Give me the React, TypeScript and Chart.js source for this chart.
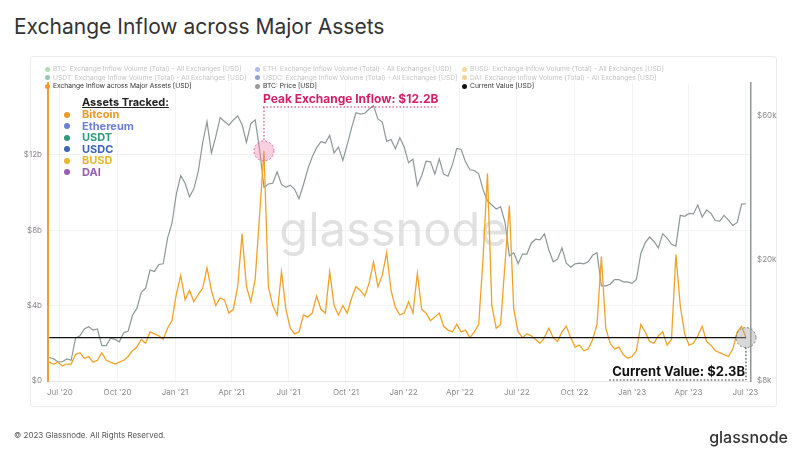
import React, { useEffect, useRef } from 'react';
import { Chart, registerables } from 'chart.js';

Chart.register(...registerables);

// ---------- DATA ----------
const START_DATE = '2020-06-14';
const STEP_DAYS = 7;

// BTC price (USD), weekly
const btcPrice = [
  9400, 9300, 9100, 9100, 9300, 9200, 10900, 11100, 11700, 11900, 11600, 11700,
  10300, 10300, 10900, 10800, 10600, 11400, 11500, 13000, 13700, 15500, 16000, 18400,
  18200, 19200, 19300, 23500, 26300, 33000, 38000, 35800, 32300, 34300, 39200, 48700,
  57500, 45200, 51200, 59300, 57500, 55900, 58200, 60000, 56200, 49000, 56600, 58200,
  46400, 34700, 35600, 35800, 39100, 35500, 34700, 35300, 34200, 31800, 35400, 39900,
  43800, 47000, 49300, 48800, 51700, 45100, 47300, 42700, 48200, 54900, 61500, 60900,
  61300, 63300, 65000, 58700, 57300, 49400, 50100, 46700, 50800, 47300, 41900, 43100,
  35100, 38000, 42400, 42200, 38400, 43200, 38400, 37800, 41300, 46800, 46400, 42200,
  39700, 39500, 38500, 34100, 31300, 30300, 29400, 29900, 26600, 20500, 21000, 19300,
  20800, 20800, 22600, 23300, 23200, 24300, 21500, 19600, 20000, 21800, 19400, 18800,
  19300, 19400, 19300, 19600, 20600, 21000, 16300, 16300, 16500, 17100, 17100, 16800,
  16800, 16600, 17100, 20900, 22700, 23700, 22900, 21800, 24300, 23500, 22400, 22100,
  28000, 27800, 28400, 28300, 30300, 27600, 29200, 28400, 26900, 26800, 28000, 27000,
  25900, 26500, 30500, 30600,
];

// Exchange inflow across major assets (USD billions), weekly
const exchangeInflow = [
  1.0, 0.9, 1.0, 0.8, 0.9, 0.9, 1.4, 1.5, 1.2, 1.3, 1.0, 1.1,
  1.5, 1.1, 1.0, 0.9, 1.0, 1.1, 1.3, 1.6, 1.8, 2.2, 2.0, 2.6,
  2.5, 2.4, 2.2, 2.8, 3.2, 4.6, 5.6, 4.3, 4.8, 4.2, 4.6, 4.9,
  6.0, 4.8, 4.0, 4.4, 4.3, 3.6, 3.8, 5.0, 7.8, 5.0, 4.2, 5.4,
  8.8, 12.2, 5.0, 4.0, 3.5, 5.8, 3.8, 2.8, 2.5, 2.6, 3.5, 3.4,
  3.6, 4.5, 3.8, 3.6, 5.8, 4.0, 3.5, 4.0, 3.6, 4.4, 5.0, 4.8,
  4.5, 5.2, 6.3, 5.0, 5.6, 6.8, 4.8, 3.9, 3.5, 3.6, 4.2, 3.6,
  5.7, 3.8, 3.6, 3.2, 3.4, 3.6, 2.9, 2.7, 2.6, 3.0, 2.6, 2.7,
  2.3, 2.6, 3.0, 6.5, 11.0, 4.0, 2.8, 3.0, 6.2, 9.3, 3.8, 2.6,
  2.3, 2.5, 2.4, 2.2, 2.0, 2.3, 2.8, 2.3, 2.1, 2.6, 2.9, 2.3,
  1.8, 1.9, 1.6, 1.7, 2.2, 3.0, 6.6, 2.8, 2.0, 1.7, 1.8, 1.4,
  1.2, 1.3, 1.6, 3.0, 2.6, 2.1, 2.0, 2.4, 2.6, 1.9, 2.2, 6.7,
  4.0, 2.5, 1.9, 2.0, 2.4, 2.9, 2.1, 1.9, 1.6, 1.5, 1.4, 1.3,
  1.7, 2.6, 2.9, 2.3,
];

const currentValue = 2.3;

const tickDates = [
  '2020-07-01', '2020-10-01', '2021-01-01', '2021-04-01', '2021-07-01', '2021-10-01',
  '2022-01-01', '2022-04-01', '2022-07-01', '2022-10-01', '2023-01-01', '2023-04-01', '2023-07-01',
];
const tickLabels = [
  "Jul '20", "Oct '20", "Jan '21", "Apr '21", "Jul '21", "Oct '21",
  "Jan '22", "Apr '22", "Jul '22", "Oct '22", "Jan '23", "Apr '23", "Jul '23",
];
const X_MIN_DATE = '2020-06-12';
const X_MAX_DATE = '2023-07-10';

const leftTicks = [0, 4, 8, 12];
const leftTickLabels = ['$0', '$4b', '$8b', '$12b'];
const rightTicks = [7850, 20000, 60000];
const rightTickLabels = ['$8k', '$20k', '$60k'];

const assetNames = ['Bitcoin', 'Ethereum', 'USDT', 'USDC', 'BUSD', 'DAI'];
const assetColors = ['#f0982a', '#6b80d6', '#2f9a77', '#3c64b4', '#ebb62e', '#9a5cb2'];

const legendCol1 = [
  'BTC: Exchange Inflow Volume (Total) - All Exchanges [USD]',
  'USDT: Exchange Inflow Volume (Total) - All Exchanges [USD]',
  'Exchange Inflow across Major Assets [USD]',
];
const legendCol2 = [
  'ETH: Exchange Inflow Volume (Total) - All Exchanges [USD]',
  'USDC: Exchange Inflow Volume (Total) - All Exchanges [USD]',
  'BTC: Price [USD]',
];
const legendCol3 = [
  'BUSD: Exchange Inflow Volume (Total) - All Exchanges [USD]',
  'DAI: Exchange Inflow Volume (Total) - All Exchanges [USD]',
  'Current Value [USD]',
];
const legendColors1 = ['#7cc47f', '#4fa58e', '#f0982a'];
const legendColors2 = ['#7f8fdc', '#4a65b0', '#9a9a9a'];
const legendColors3 = ['#eec25a', '#e8b84a', '#111111'];

// ---------- HELPERS ----------
const DAY0 = Date.UTC(2020, 6, 1);
const dayOf = (s: string) => (Date.parse(s + 'T00:00:00Z') - DAY0) / 86400000;
const startDay = dayOf(START_DATE);
const days = btcPrice.map((_, i) => startDay + i * STEP_DAYS);

const FONT = 'Inter, "Open Sans", sans-serif';

function dotted(ctx: CanvasRenderingContext2D, x1: number, y1: number, x2: number, y2: number, color: string) {
  ctx.save();
  ctx.strokeStyle = color;
  ctx.lineWidth = 1;
  ctx.setLineDash([1.5, 2]);
  ctx.beginPath();
  ctx.moveTo(x1, y1);
  ctx.lineTo(x2, y2);
  ctx.stroke();
  ctx.restore();
}

const annotPlugin = {
  id: 'annot',
  beforeDatasetsDraw(chart: any) {
    const { ctx, chartArea } = chart;
    ctx.save();
    ctx.font = `400 47px ${FONT}`;
    ctx.fillStyle = 'rgba(180,180,180,0.4)';
    ctx.textAlign = 'center';
    ctx.textBaseline = 'middle';
    ctx.fillText('glassnode', (chartArea.left + chartArea.right) / 2 - 6, 232);
    ctx.restore();
  },
  afterDatasetsDraw(chart: any) {
    const { ctx } = chart;
    const xs = chart.scales.x;
    const ys = chart.scales.y;
    // Peak
    const maxV = Math.max(...exchangeInflow);
    const pi = exchangeInflow.indexOf(maxV);
    const px = xs.getPixelForValue(days[pi]);
    const py = ys.getPixelForValue(maxV);
    ctx.save();
    ctx.beginPath();
    ctx.arc(px, py, 10, 0, Math.PI * 2);
    ctx.fillStyle = 'rgba(240,120,170,0.35)';
    ctx.fill();
    ctx.setLineDash([2, 2]);
    ctx.strokeStyle = '#e0609a';
    ctx.lineWidth = 1;
    ctx.stroke();
    ctx.restore();

    const peakText = 'Peak Exchange Inflow: $' + maxV.toFixed(1) + 'B';
    ctx.save();
    ctx.font = `bold 12px ${FONT}`;
    ctx.fillStyle = '#d4206b';
    ctx.textAlign = 'left';
    ctx.textBaseline = 'middle';
    const ptx = px - 1;
    ctx.fillText(peakText, ptx, 99);
    const pw = ctx.measureText(peakText).width;
    ctx.restore();
    dotted(ctx, ptx, 107, ptx + pw, 107, '#d4206b');
    dotted(ctx, px, 107, px, py - 10, '#d4206b');

    // Current
    const li = exchangeInflow.length - 1;
    const lx = xs.getPixelForValue(days[li]);
    const ly = ys.getPixelForValue(currentValue);
    ctx.save();
    ctx.beginPath();
    ctx.arc(lx, ly, 10, 0, Math.PI * 2);
    ctx.fillStyle = 'rgba(160,160,160,0.4)';
    ctx.fill();
    ctx.setLineDash([2, 2]);
    ctx.strokeStyle = '#777';
    ctx.lineWidth = 1;
    ctx.stroke();
    ctx.restore();

    const curText = 'Current Value: $' + currentValue.toFixed(1) + 'B';
    ctx.save();
    ctx.font = `bold 13px ${FONT}`;
    ctx.fillStyle = '#111';
    ctx.textAlign = 'right';
    ctx.textBaseline = 'middle';
    ctx.fillText(curText, lx - 1, 372);
    const cw = ctx.measureText(curText).width;
    ctx.restore();
    dotted(ctx, lx - cw - 4, 380, lx, 380, '#222');
    dotted(ctx, lx, ly + 10, lx, 380, '#222');
  },
};

export default function App() {
  const canvasRef = useRef<HTMLCanvasElement | null>(null);

  useEffect(() => {
    document.body.style.margin = '0';
    const canvas = canvasRef.current;
    if (!canvas) return;
    const tickDays = tickDates.map(dayOf);
    const chart = new Chart(canvas, {
      type: 'line',
      data: {
        datasets: [
          {
            label: 'Current Value [USD]',
            data: [
              { x: days[0], y: currentValue },
              { x: days[days.length - 1], y: currentValue },
            ],
            borderColor: '#111',
            borderWidth: 1.4,
            pointRadius: 0,
            yAxisID: 'y',
            order: 0,
          },
          {
            label: 'Exchange Inflow across Major Assets [USD]',
            data: days.map((d, i) => ({ x: d, y: exchangeInflow[i] })),
            borderColor: '#f2a227',
            borderWidth: 1.3,
            pointRadius: 0,
            yAxisID: 'y',
            order: 1,
          },
          {
            label: 'BTC: Price [USD]',
            data: days.map((d, i) => ({ x: d, y: btcPrice[i] })),
            borderColor: '#8c9898',
            borderWidth: 1.2,
            pointRadius: 0,
            yAxisID: 'y1',
            order: 2,
          },
        ],
      },
      options: {
        animation: false,
        responsive: false,
        maintainAspectRatio: false,
        layout: { padding: { left: 0, right: 0, top: 83, bottom: 0 } },
        plugins: { legend: { display: false }, tooltip: { enabled: false } },
        scales: {
          x: {
            type: 'linear',
            min: dayOf(X_MIN_DATE),
            max: dayOf(X_MAX_DATE),
            afterBuildTicks: (s: any) => {
              s.ticks = tickDays.map((v) => ({ value: v }));
            },
            afterFit: (s: any) => {
              s.height = 79;
            },
            ticks: {
              autoSkip: false,
              maxRotation: 0,
              padding: 7,
              color: '#8a8a8a',
              font: { size: 8, family: FONT },
              callback: (v: any) => {
                const i = tickDays.indexOf(Number(v));
                return i >= 0 ? tickLabels[i] : '';
              },
            },
            grid: { color: '#f4f4f4', drawTicks: false },
            border: { color: '#e6e6e6' },
          },
          y: {
            type: 'linear',
            position: 'left',
            min: 0,
            max: 15.8,
            afterBuildTicks: (s: any) => {
              s.ticks = leftTicks.map((v) => ({ value: v }));
            },
            afterFit: (s: any) => {
              s.width = 48;
            },
            ticks: {
              padding: 6,
              color: '#8a8a8a',
              font: { size: 8, family: FONT },
              callback: (v: any) => {
                const i = leftTicks.indexOf(Number(v));
                return i >= 0 ? leftTickLabels[i] : '';
              },
            },
            grid: { color: '#f2f2f2', drawTicks: false },
            border: { color: '#f0a030', width: 2 },
          },
          y1: {
            type: 'logarithmic',
            position: 'right',
            min: 7850,
            max: 77300,
            afterBuildTicks: (s: any) => {
              s.ticks = rightTicks.map((v) => ({ value: v }));
            },
            afterFit: (s: any) => {
              s.width = 49;
            },
            ticks: {
              padding: 6,
              color: '#8a8a8a',
              font: { size: 8, family: FONT },
              callback: (v: any) => {
                const i = rightTicks.indexOf(Number(v));
                return i >= 0 ? rightTickLabels[i] : '';
              },
            },
            grid: { display: false, drawTicks: false },
            border: { color: '#8c9898', width: 1.5 },
          },
        },
      },
      plugins: [annotPlugin],
    } as any);
    return () => chart.destroy();
  }, []);

  const legendCol = (items: string[], colors: string[], left: number) =>
    items.map((t, i) => (
      <div
        key={t}
        style={{
          position: 'absolute',
          left,
          top: 65 + i * 8.6,
          fontSize: 6.7,
          lineHeight: '8px',
          whiteSpace: 'nowrap',
          color: i === 2 ? '#333' : '#c4c4c4',
          display: 'flex',
          alignItems: 'center',
        }}
      >
        <span
          style={{
            display: 'inline-block',
            width: 5,
            height: 5,
            borderRadius: '50%',
            background: colors[i],
            opacity: i === 2 ? 1 : 0.6,
            marginRight: 3,
          }}
        />
        {t}
      </div>
    ));

  return (
    <div style={{ position: 'relative', width: 800, height: 460, background: '#fff', fontFamily: FONT, overflow: 'hidden' }}>
      <div style={{ position: 'absolute', left: 14, top: 16, fontSize: 21, color: '#333', lineHeight: 1, whiteSpace: 'nowrap' }}>
        Exchange Inflow across Major Assets
      </div>
      <div
        style={{
          position: 'absolute',
          left: 30,
          top: 56,
          width: 745,
          height: 349,
          border: '1px solid #ececec',
          borderRadius: 3,
        }}
      />
      <canvas ref={canvasRef} width={800} height={460} style={{ position: 'absolute', left: 0, top: 0, width: 800, height: 460 }} />
      {legendCol(legendCol1, legendColors1, 45)}
      {legendCol(legendCol2, legendColors2, 255)}
      {legendCol(legendCol3, legendColors3, 462)}
      <div
        style={{
          position: 'absolute',
          left: 82,
          top: 96,
          fontSize: 11,
          fontWeight: 700,
          color: '#222',
          textDecoration: 'underline',
          whiteSpace: 'nowrap',
          lineHeight: '13px',
        }}
      >
        Assets Tracked:
      </div>
      {assetNames.map((n, i) => (
        <div
          key={n}
          style={{
            position: 'absolute',
            left: 64,
            top: 108 + i * 11.5,
            fontSize: 11,
            fontWeight: 700,
            color: assetColors[i],
            display: 'flex',
            alignItems: 'center',
            lineHeight: '13px',
            whiteSpace: 'nowrap',
          }}
        >
          <span
            style={{
              display: 'inline-block',
              width: 6,
              height: 6,
              borderRadius: '50%',
              background: assetColors[i],
              marginRight: 12,
            }}
          />
          {n}
        </div>
      ))}
      <div style={{ position: 'absolute', left: 14, top: 430, fontSize: 8, color: '#555', whiteSpace: 'nowrap' }}>
        © 2023 Glassnode. All Rights Reserved.
      </div>
      <div style={{ position: 'absolute', right: 12, top: 427, fontSize: 16, fontWeight: 500, color: '#333', whiteSpace: 'nowrap' }}>
        glassnode
      </div>
    </div>
  );
}
